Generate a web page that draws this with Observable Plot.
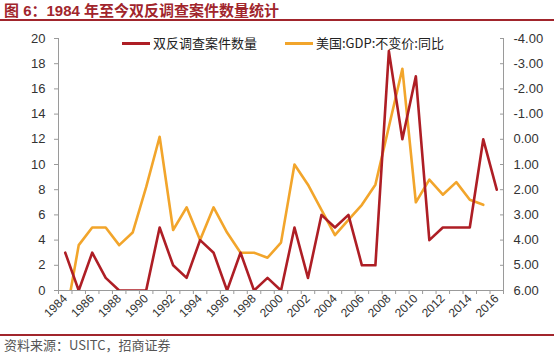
<!DOCTYPE html>
<html><head><meta charset="utf-8">
<script src="https://cdn.jsdelivr.net/npm/d3@7"></script>
<script src="https://cdn.jsdelivr.net/npm/@observablehq/plot@0.6"></script>
<style>
html,body{margin:0;padding:0;background:#fff}
body{width:554px;height:356px;position:relative;overflow:hidden;font-family:"Liberation Sans",Arial,"Noto Sans CJK SC",sans-serif}
#title{position:absolute;left:0;top:0;width:554px;height:21px;border-bottom:2px solid #A1252C;color:#A1252C;font:bold 15px "Liberation Sans","Noto Sans CJK SC",sans-serif;line-height:22px;padding-left:4px;box-sizing:border-box;white-space:nowrap}
#chart{position:absolute;left:0;top:23px}
#legend{position:absolute;left:0;top:35px;font:13px "Noto Sans CJK SC",sans-serif;color:#222}
.lg{position:absolute;white-space:nowrap;line-height:16px}
.sw{display:inline-block;width:28px;height:3px;vertical-align:middle;margin-right:3px;position:relative;top:-1px}
#src{position:absolute;left:0;top:334px;width:554px;border-top:2px solid #A1252C;color:#555;font:13px "Noto Sans CJK SC",sans-serif;padding-left:4px;box-sizing:border-box;line-height:18px}
</style></head>
<body>
<div id="title">图 6：1984 年至今双反调查案件数量统计</div>
<div id="chart"></div>
<div id="legend"></div>
<div id="src">资料来源：USITC，招商证券</div>
<script>
const years = [1984,1985,1986,1987,1988,1989,1990,1991,1992,1993,1994,1995,1996,1997,1998,1999,2000,2001,2002,2003,2004,2005,2006,2007,2008,2009,2010,2011,2012,2013,2014,2015,2016];
const cases = [3,0,3,1,0,0,0,5,2,1,4,3,0,3,0,1,0,5,1,6,5,6,2,2,19,12,17,4,5,5,5,12,8];
const gdp = [7.2,4.2,3.5,3.5,4.2,3.7,1.9,-0.1,3.6,2.7,4.0,2.7,3.7,4.5,4.5,4.7,4.1,1.0,1.8,2.8,3.8,3.2,2.6,1.8,-0.5,-2.8,2.5,1.6,2.2,1.7,2.4,2.6,null];
const leftTicks = [0,2,4,6,8,10,12,14,16,18,20];
const rightTicks = [-4,-3,-2,-1,0,1,2,3,4,5,6];
const labelYears = [1984,1986,1988,1990,1992,1994,1996,1998,2000,2002,2004,2006,2008,2010,2012,2014,2016];
const seriesNames = ["双反调查案件数量","美国:GDP:不变价:同比"];
const colors = ["#AE1E25","#F2A52B"];

// map right (inverted) axis values onto left-axis units
const toLeft = d3.scaleLinear().domain([6,-4]).range([0,20]);
const fromLeft = toLeft.invert;

const rowsCases = years.map((y,i)=>({year:y, v:cases[i]}));
const rowsGdp = years.map((y,i)=>({year:y, v:gdp[i]})).filter(d=>d.v!=null);
const bounds = d3.range(years.length+1).map(i=>years[0]-0.5+i);

const axisColor = "#9a9a9a";
const plot = Plot.plot({
  width: 554, height: 310,
  marginLeft: 58, marginRight: 51, marginTop: 15, marginBottom: 43,
  style: {fontFamily: "'Liberation Sans', Arial, sans-serif", fontSize: "13px", color: "#333", background: "#fff"},
  x: {type: "linear", domain: [years[0]-0.5, years[years.length-1]+0.5]},
  y: {domain: [0,20]},
  marks: [
    Plot.ruleX([bounds[0], bounds[bounds.length-1]], {stroke: axisColor}),
    Plot.ruleY([0], {stroke: axisColor}),
    Plot.axisY({ticks: leftTicks, tickSize: 4, tickPadding: 9, label: null, stroke: axisColor, fill: "#333", fontSize: 13}),
    Plot.axisY({anchor: "right", ticks: rightTicks.map(toLeft), tickFormat: d => fromLeft(d).toFixed(2), tickSize: 0, tickPadding: 10, label: null, fill: "#333", fontSize: 13}),
    Plot.axisY({anchor: "right", ticks: rightTicks.map(toLeft), tickFormat: () => "", tickSize: -4, label: null, stroke: axisColor}),
    Plot.axisX({ticks: bounds, tickFormat: () => "", tickSize: 4, label: null, stroke: axisColor}),
    Plot.axisX({ticks: labelYears, tickFormat: d => String(d), tickSize: 0, tickPadding: 6, tickRotate: -45, label: null, fill: "#333", fontSize: 12}),
    Plot.line(rowsGdp, {x: "year", y: d => toLeft(d.v), stroke: colors[1], strokeWidth: 2.6, clip: true}),
    Plot.line(rowsCases, {x: "year", y: "v", stroke: colors[0], strokeWidth: 2.6, clip: true})
  ]
});
document.getElementById("chart").appendChild(plot);

const lg = document.getElementById("legend");
const pos = [122, 285];
seriesNames.forEach((n,i)=>{
  const d = document.createElement("div");
  d.className = "lg";
  d.style.left = pos[i] + "px";
  d.innerHTML = `<span class="sw" style="background:${colors[i]}"></span>${n}`;
  lg.appendChild(d);
});
</script>
</body></html>
